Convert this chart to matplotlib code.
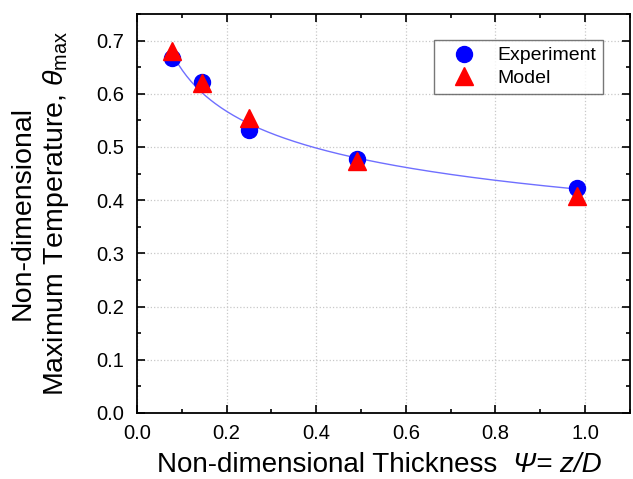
import numpy as np
import matplotlib
matplotlib.use("Agg")
import matplotlib.pyplot as plt
from matplotlib.ticker import MultipleLocator

# Data
thickness = [0.079, 0.144, 0.250, 0.492, 0.983]
experiment = [0.668, 0.622, 0.531, 0.478, 0.423]
model = [0.680, 0.621, 0.555, 0.474, 0.408]

plt.rcParams["font.family"] = "Liberation Sans"
plt.rcParams["mathtext.fontset"] = "custom"
plt.rcParams["mathtext.rm"] = "Liberation Sans"
plt.rcParams["mathtext.it"] = "Liberation Sans:italic"

fig = plt.figure(figsize=(6.33, 4.79), dpi=100)
ax = fig.add_axes([0.2164, 0.1378, 0.7786, 0.833])

# Power-law fit through the experiment points
b, log_a = np.polyfit(np.log(thickness), np.log(experiment), 1)
x_fit = np.linspace(thickness[0], thickness[-1], 200)
ax.plot(x_fit, np.exp(log_a) * x_fit ** b, color="#6f6fff", lw=1.0, zorder=2)

ax.plot(thickness, experiment, "o", color="blue", markersize=11.5,
        label="Experiment", zorder=3)
ax.plot(thickness, model, "^", color="red", markersize=12.5,
        label="Model", zorder=4)

ax.set_xlim(0, 1.1)
ax.set_ylim(0, 0.75)
ax.xaxis.set_major_locator(MultipleLocator(0.2))
ax.xaxis.set_minor_locator(MultipleLocator(0.1))
ax.yaxis.set_major_locator(MultipleLocator(0.1))
ax.yaxis.set_minor_locator(MultipleLocator(0.05))
ax.xaxis.set_major_formatter(matplotlib.ticker.FormatStrFormatter("%.1f"))
ax.yaxis.set_major_formatter(matplotlib.ticker.FormatStrFormatter("%.1f"))
ax.tick_params(which="both", direction="in", top=True, right=True,
               labelsize=14.5, width=1.2)
ax.tick_params(which="major", length=6)
ax.tick_params(which="minor", length=3)
ax.tick_params(axis="x", which="major", pad=8)
ax.tick_params(axis="y", which="major", pad=9)
for s in ax.spines.values():
    s.set_linewidth(1.3)
ax.grid(True, which="major", linestyle=":", color="#c8c8c8", linewidth=0.9)

# x label in two pieces so the symbol part can be italic
t1 = fig.text(0.248, 0.015, "Non-dimensional Thickness  ", fontsize=20,
              ha="left", va="baseline")
fig.canvas.draw()
bb = t1.get_window_extent(fig.canvas.get_renderer())
fig.text(bb.x1 / fig.bbox.width, 0.015, "Ψ= z/D", fontsize=20,
         style="italic", ha="left", va="baseline")

ax.set_ylabel("Non-dimensional\nMaximum Temperature, " + r"$\mathit{\theta}_{\rm max}$",
              fontsize=20.5, labelpad=18, linespacing=1.25)

leg = ax.legend(loc="upper right", bbox_to_anchor=(0.945, 0.935), fontsize=14,
                fancybox=False, edgecolor="#555555", handletextpad=0.5,
                borderpad=0.35, labelspacing=0.25, borderaxespad=0,
                handlelength=2.4)
leg.get_frame().set_linewidth(1.0)

fig.savefig("out.png", dpi=100)
